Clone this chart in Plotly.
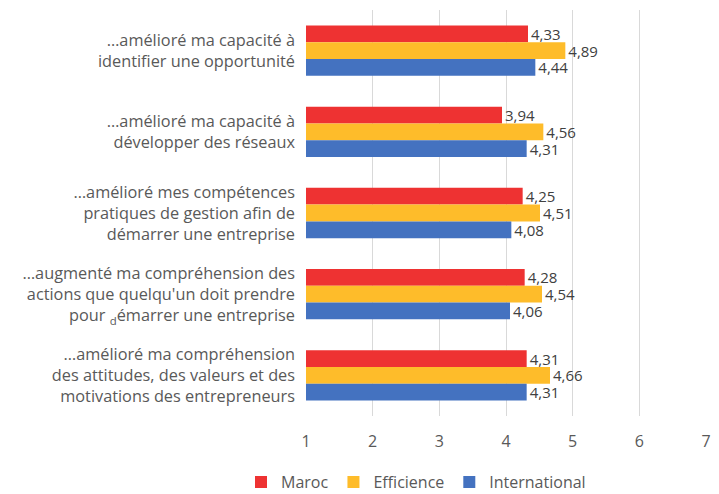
import plotly.graph_objects as go

categories = [
    "…amélioré ma capacité à<br>identifier une opportunité",
    "…amélioré ma capacité à<br>développer des réseaux",
    "…amélioré mes compétences<br>pratiques de gestion afin de<br>démarrer une entreprise",
    "…augmenté ma compréhension des<br>actions que quelqu'un doit prendre<br>pour <sub>d</sub>émarrer une entreprise",
    "…amélioré ma compréhension<br>des attitudes, des valeurs et des<br>motivations des entrepreneurs",
]
maroc = [4.33, 3.94, 4.25, 4.28, 4.31]
efficience = [4.89, 4.56, 4.51, 4.54, 4.66]
international = [4.44, 4.31, 4.08, 4.06, 4.31]
tick_vals = [1, 2, 3, 4, 5, 6, 7]

series = [
    ("Maroc", maroc, "#EE3232"),
    ("Efficience", efficience, "#FEBC2A"),
    ("International", international, "#4472C0"),
]

FONT = "Open Sans"
fig = go.Figure()
for name, vals, color in series:
    fig.add_trace(go.Bar(
        name=name, y=categories, x=vals, orientation="h",
        marker=dict(color=color, line=dict(width=0)),
        text=[f"{v:.2f}".replace(".", ",") for v in vals],
        textposition="outside", cliponaxis=False, constraintext="none",
        textfont=dict(size=15, color="#404040", family=FONT),
    ))

fig.update_layout(
    width=719, height=494,
    barmode="group", bargap=0.38, bargroupgap=0,
    plot_bgcolor="white", paper_bgcolor="white",
    margin=dict(l=306, r=13, t=10, b=78, autoexpand=False),
    font=dict(family=FONT, color="#595959", size=15),
    legend=dict(orientation="h", x=0.275, xanchor="center", y=-0.163, yanchor="middle",
                font=dict(size=16, color="#595959", family=FONT), traceorder="normal",
                itemwidth=30, tracegroupgap=0),
    showlegend=True,
)
fig.update_xaxes(range=[1, 7], tickvals=tick_vals, showgrid=True, gridcolor="#D9D9D9",
                 gridwidth=1, zeroline=False, ticks="outside", ticklen=11,
                 tickcolor="rgba(0,0,0,0)", tickfont=dict(size=16, color="#595959"),
                 showline=False, automargin=False)
fig.update_yaxes(autorange="reversed", showgrid=False, zeroline=False,
                 tickfont=dict(size=16.3, color="#595959"), ticklabelstandoff=10,
                 showline=False, ticks="", automargin=False)

fig.write_html("out.html", config={"displayModeBar": False},
               post_script="document.body.style.margin='0';")
